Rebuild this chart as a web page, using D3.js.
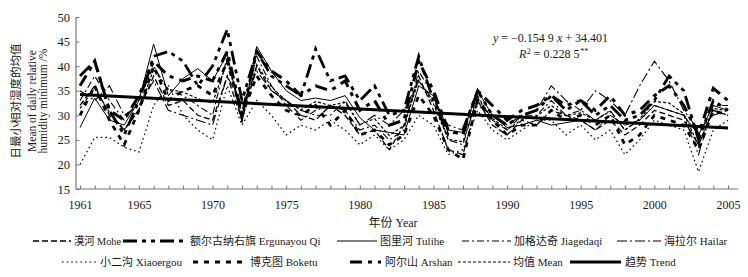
<!DOCTYPE html>
<html><head><meta charset="utf-8">
<script src="https://cdn.jsdelivr.net/npm/d3@7/dist/d3.min.js"></script>
<style>
body{margin:0;background:#fff}
svg{display:block}
text{font-family:"Liberation Serif","Noto Sans CJK SC",serif;fill:#1a1a1a}
</style>
</head><body><svg id="c" width="748" height="277"></svg>
<script>
// ---------- data ----------
const years = [1961,1962,1963,1964,1965,1966,1967,1968,1969,1970,1971,1972,1973,1974,1975,1976,1977,1978,1979,1980,1981,1982,1983,1984,1985,1986,1987,1988,1989,1990,1991,1992,1993,1994,1995,1996,1997,1998,1999,2000,2001,2002,2003,2004,2005];
const mohe      = [32,36,30,27,31,38,32,33,30,29,38,29,40,35,33,30,29,32,30,26,27,23,28,38,31,23,22,33,28,26,29,28,31,30,29,27,29,26,28,31,30,29,24,31,30];
const ergunayou = [38,41,31,26,33,42,43,41,36,40,47.5,33,43,38,36,34,43.5,37,38,33,36,30,31,42,33,26,27,35,30,28,30,31,34,31,33,30,32,29,30,33,38,35,25,33,31];
const tulihe    = [27.5,33.5,29,28,33,44.5,34,37.5,39.5,37,42.5,28.5,44,39,35,33,33.5,33,34,29.5,27,26.5,26,36,34,27,26.5,35,30,27.5,28,29,28,28.5,29,27,30,28,29,32,31,30,26,32,31];
const jiagedaqi = [33,38,33,29,33,40,35,34,32,30,42,30,42,36,32,29,31,32,31,27,28,25,27,39,34,25,24,34,29,27,30,30,33,30,31,29,31,27,29,32,31,30,22,32,32];
const hailar    = [35,33,36,30,32,37,31,30,29,28,38,32,39,35,33,31,30,30,33,28,30,28,31,37,33,28,27,32,30,28,30,31,36,33,31,35,33,30,36,41,37,31,27,30,31];
const xiaoergou = [20,25.5,25.5,23.5,22.5,32,36,30,27,25,36,28,33,30,26,28,27,29,27,24,26,23,25,30,28,22,23,31,27,25,27,29,29,26,28,25,27,22,25,29,28,27,18.5,27,29];
const boketu    = [30,36,29,24,31,40,33,35,36,34,41,30,38,34,31,30,32,28,31,26,27,24,26,34,30,23,21,33,29,26,28,28,31,29,30,28,30,24,26,30,29,28,23,31,30];
const arshan    = [36,41,31,29,34,41,38,37,38,37,43,30,43,39,37,34,36,35,37,31,33,28,29,41,35,27,26,35,32,29,31,32,34,32,33,31,34,30,31,34,36,32,26,35.5,33];
const mean      = [31.4,35.5,30.6,27.1,31.2,39.3,35.3,34.7,33.4,32.5,41.0,30.1,40.3,35.8,32.9,31.1,32.8,32.0,32.6,28.1,29.3,25.9,27.9,37.1,32.3,25.1,24.6,33.5,29.4,27.1,29.1,29.8,32.0,29.9,30.5,29.0,30.8,27.0,29.3,32.8,32.5,30.3,23.9,31.4,30.9];
const trendSlope = -0.1549, trendIntercept = 34.401;   // y = -0.1549 x + 34.401, x = 1..45
const xTickLabels = [1961,1965,1970,1975,1980,1985,1990,1995,2000,2005];
const yTickValues = [15,20,25,30,35,40,45,50];
const seriesNamesZh = ["漠河","额尔古纳右旗","图里河","加格达奇","海拉尔","小二沟","博克图","阿尔山","均值","趋势"];
const seriesNamesEn = ["Mohe","Ergunayou Qi","Tulihe","Jiagedaqi","Hailar","Xiaoergou","Boketu","Arshan","Mean","Trend"];

// ---------- styles / layout ----------
const styles = [
  {w:1.3, dash:"6,3"},
  {w:2.8, dash:"14,5,4,5,4,5"},
  {w:1.0, dash:null},
  {w:1.1, dash:"7,3,2,3"},
  {w:1.1, dash:"10,3,2,3"},
  {w:1.2, dash:"1.6,3"},
  {w:2.8, dash:"5,6"},
  {w:3.0, dash:"12,6,4,6"},
  {w:1.2, dash:"3,2"},
  {w:3.0, dash:null}
];
const legendLayout = [
  {row:0,x0:33,x1:71,tx:74,tx2:121},
  {row:0,x0:123,x1:187,tx:190,tx2:333},
  {row:0,x0:337,x1:377,tx:380,tx2:458},
  {row:0,x0:462,x1:511,tx:514,tx2:613},
  {row:0,x0:617,x1:661,tx:664,tx2:737},
  {row:1,x0:62,x1:98,tx:100,tx2:188},
  {row:1,x0:193,x1:247,tx:250,tx2:325},
  {row:1,x0:350,x1:381,tx:385,tx2:457},
  {row:1,x0:458,x1:510,tx:513,tx2:563},
  {row:1,x0:570,x1:621,tx:625,tx2:680}
];
const rowY = [241, 262];

const svg = d3.select("#c");
const x = d3.scaleLinear().domain([1961,2005]).range([80,728]);
const y = d3.scaleLinear().domain([15,50]).range([189,17]);

// axes
const axisColor = "#777";
const xAxis = d3.axisBottom(x).tickValues(years).tickSize(0).tickFormat(d=>xTickLabels.includes(d)?d:"");
const gx = svg.append("g").attr("transform","translate(0,189)").call(xAxis);
gx.select(".domain").remove();
gx.selectAll(".tick text").attr("dy",null).attr("y",20).style("font-size","12px").style("font-family","'Liberation Serif',serif").attr("fill","#1a1a1a");
gx.selectAll(".tick").append("line").attr("y1",0).attr("y2",-3.5).attr("stroke",axisColor).attr("stroke-width",1);
svg.append("line").attr("x1",76).attr("x2",738).attr("y1",189).attr("y2",189).attr("stroke",axisColor).attr("stroke-width",1.2);

const yAxis = d3.axisLeft(y).tickValues(yTickValues).tickSize(0).tickPadding(6);
const gy = svg.append("g").attr("transform","translate(76,0)").call(yAxis);
gy.select(".domain").remove();
gy.selectAll(".tick text").style("font-size","12.5px").style("font-family","'Liberation Serif',serif").attr("fill","#1a1a1a");
gy.selectAll(".tick").append("line").attr("x1",0).attr("x2",3.5).attr("stroke",axisColor).attr("stroke-width",1);
svg.append("line").attr("x1",76).attr("x2",76).attr("y1",17).attr("y2",189).attr("stroke",axisColor).attr("stroke-width",1.2);

// series
const allSeries = [mohe, ergunayou, tulihe, jiagedaqi, hailar, xiaoergou, boketu, arshan, mean];
const line = d3.line().x((d,i)=>x(years[i])).y(d=>y(d));
const drawOrder = [5,3,4,0,2,8,6,7,1];
drawOrder.forEach(k=>{
  svg.append("path").datum(allSeries[k]).attr("d",line)
    .attr("fill","none").attr("stroke","#000")
    .attr("stroke-width",styles[k].w)
    .attr("stroke-dasharray",styles[k].dash)
    .attr("stroke-linejoin","miter");
});
// trend
const tFirst = trendSlope*1 + trendIntercept, tLast = trendSlope*years.length + trendIntercept;
svg.append("line").attr("x1",x(years[0])).attr("y1",y(tFirst))
  .attr("x2",x(years[years.length-1])).attr("y2",y(tLast))
  .attr("stroke","#000").attr("stroke-width",styles[9].w);

// equation (pieces laid out one after another)
function runText(parts, startX, baseY){
  let cx = startX;
  parts.forEach(p=>{
    const t = svg.append("text").attr("x",cx).attr("y",baseY + (p.dy||0))
      .style("font-size",(p.fs||12)+"px").attr("font-style",p.it?"italic":null).text(p.s);
    cx += t.node().getComputedTextLength() + (p.gap||0);
  });
}
runText([{s:"y",it:true,gap:3},{s:"= −0.154 9",gap:3},{s:"x",it:true,gap:3},{s:"+ 34.401"}], 493, 42);
runText([{s:"R",it:true,gap:0.5},{s:"2",fs:8,dy:-4,gap:3},{s:"= 0.228 5",gap:0.5},{s:"**",fs:8,dy:-4}], 519, 58);

// axis titles
svg.append("text").attr("x",393).attr("y",227).attr("text-anchor","middle").style("font-size","12px").text("年份 Year");
const yt = svg.append("g").attr("transform","translate(0,101) rotate(-90)");
yt.append("text").attr("x",0).attr("y",20).attr("text-anchor","middle").style("font-size","11.5px").text("日最小相对湿度的均值");
yt.append("text").attr("x",0).attr("y",36).attr("text-anchor","middle").style("font-size","11.5px").text("Mean of daily relative");
yt.append("text").attr("x",0).attr("y",47).attr("text-anchor","middle").style("font-size","11.5px").text("humidity minimum /%");

// legend
legendLayout.forEach((L,k)=>{
  const yy = rowY[L.row];
  svg.append("line").attr("x1",L.x0).attr("x2",L.x1).attr("y1",yy).attr("y2",yy)
    .attr("stroke","#000").attr("stroke-width",styles[k].w).attr("stroke-dasharray",styles[k].dash);
  const t = svg.append("text").attr("x",L.tx).attr("y",yy+4).style("font-size","11px")
    .text(seriesNamesZh[k] + " " + seriesNamesEn[k]);
  const w = t.node().getComputedTextLength(), target = L.tx2 - L.tx;
  if (w > target) t.attr("textLength",target).attr("lengthAdjust","spacingAndGlyphs");
});
</script>
</body></html>
